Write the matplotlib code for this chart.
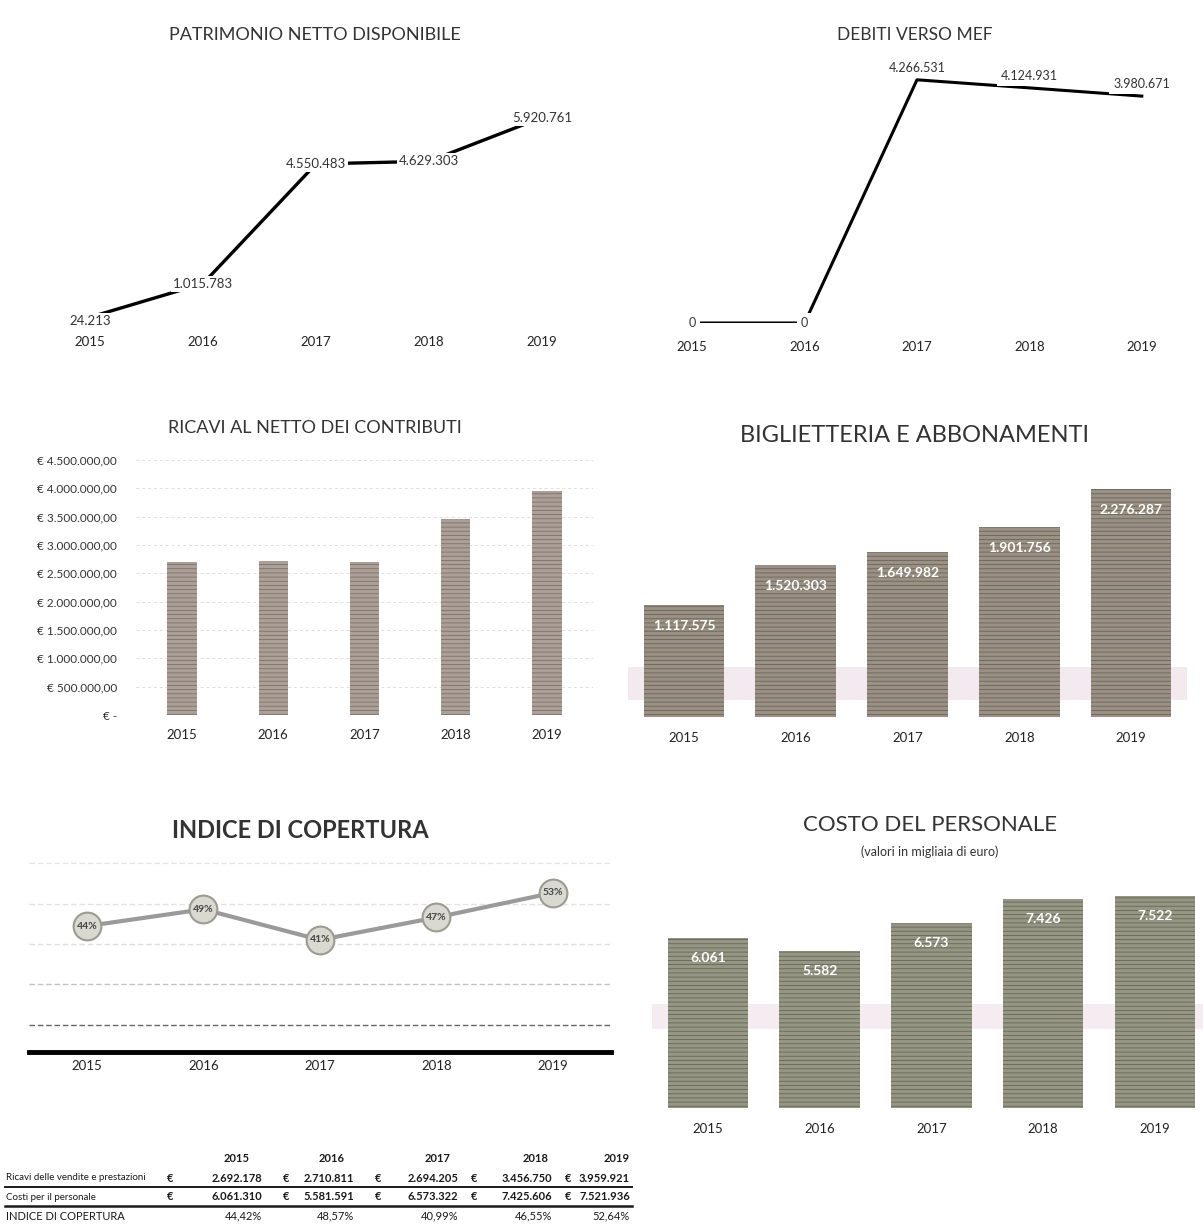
import matplotlib
matplotlib.use("Agg")
import matplotlib.pyplot as plt

W, H = 1203, 1227

years = ["2015", "2016", "2017", "2018", "2019"]
patrimonio = [24213, 1015783, 4550483, 4629303, 5920761]
debiti_mef = [0, 0, 4266531, 4124931, 3980671]
ricavi_vendite = [2692178, 2710811, 2694205, 3456750, 3959921]
biglietteria = [1117575, 1520303, 1649982, 1901756, 2276287]
costi_personale = [6061310, 5581591, 6573322, 7425606, 7521936]
costo_personale_k = [6061, 5582, 6573, 7426, 7522]
indice_copertura = [44.42, 48.57, 40.99, 46.55, 52.64]
ricavi_ticks = [0, 500000, 1000000, 1500000, 2000000, 2500000,
                3000000, 3500000, 4000000, 4500000]
indice_grid = [20, 30, 40, 50, 60]

FONT = "Lato"
plt.rcParams["font.family"] = [FONT, "DejaVu Sans"]
plt.rcParams["hatch.linewidth"] = 0.6


def it_int(v):
    return f"{v:,}".replace(",", ".")


def it_eur(v):
    if v == 0:
        return "€ -"
    s = f"{v:,.2f}".replace(",", "X").replace(".", ",").replace("X", ".")
    return f"€ {s}"


def px_axes(fig, left, top, right, bottom):
    return fig.add_axes([left / W, 1 - bottom / H, (right - left) / W, (bottom - top) / H])


def clean(ax, pad):
    for s in ax.spines.values():
        s.set_visible(False)
    ax.set_yticks([])
    ax.set_xticks(range(len(years)))
    ax.set_xticklabels(years, fontsize=9.5, color="#222222")
    ax.tick_params(axis="x", length=0, pad=pad)
    ax.patch.set_alpha(0)


def ftext(x, y, s, **kw):
    fig.text(x / W, 1 - y / H, s, **kw)


fig = plt.figure(figsize=(W / 100, H / 100), dpi=100)
x = list(range(len(years)))

# ---- Patrimonio netto disponibile (line) ----
ax1 = px_axes(fig, 33.5, 81, 598.5, 318)
ax1.set_xlim(-0.5, 4.5)
ax1.set_ylim(0, 7e6)
clean(ax1, 13)
ax1.axhline(0, color="#bbbbbb", lw=0.8, ls=(0, (2, 3)), zorder=1)
ax1.plot(x, patrimonio, color="black", lw=2.4, zorder=2)
for i, v in enumerate(patrimonio):
    ax1.annotate(it_int(v), (i, v), xytext=(0, -4 if v < 1e5 else 0),
                 textcoords="offset pixels", ha="center", va="center",
                 fontsize=9.5, color="#333333", zorder=3,
                 bbox=dict(boxstyle="square,pad=0.15", fc="white", ec="none"))
ftext(315, 35, "PATRIMONIO NETTO DISPONIBILE", ha="center", va="center",
      fontsize=13, color="#333333")

# ---- Debiti verso MEF (line) ----
ax2 = px_axes(fig, 636, 66.5, 1198, 323)
ax2.set_xlim(-0.5, 4.5)
ax2.set_ylim(0, 4.5e6)
clean(ax2, 13)
ax2.plot(x, debiti_mef, color="black", lw=2.2, zorder=2)
for i, v in enumerate(debiti_mef):
    ax2.annotate(it_int(v), (i, v), xytext=(0, 12 if v > 0 else 0),
                 textcoords="offset pixels", ha="center", va="center",
                 fontsize=9, color="#333333", zorder=3,
                 bbox=dict(boxstyle="square,pad=0.35", fc="white", ec="none"))
ftext(915, 35, "DEBITI VERSO MEF", ha="center", va="center",
      fontsize=12.5, color="#333333")

# ---- Ricavi al netto dei contributi (bars with euro axis) ----
ax3 = px_axes(fig, 136.4, 460, 592.6, 715)
ax3.set_xlim(-0.5, 4.5)
ax3.set_ylim(0, 4.5e6)
clean(ax3, 10)
ax3.set_yticks(ricavi_ticks)
ax3.set_yticklabels([it_eur(t) for t in ricavi_ticks], fontsize=8.5, color="#333333")
ax3.tick_params(axis="y", length=0, pad=14)
for t in ricavi_ticks[1:]:
    ax3.axhline(t, color="#dedede", lw=0.7, ls=(0, (3, 3)), zorder=0)
ax3.bar(x, ricavi_vendite, width=0.32, color="#ab9f98", edgecolor="#7c7269",
        hatch="----", lw=0, zorder=2)
ftext(315, 428, "RICAVI AL NETTO DEI CONTRIBUTI", ha="center", va="center",
      fontsize=13, color="#333333")

# ---- Biglietteria e abbonamenti (bars) ----
ax4 = px_axes(fig, 628, 467, 1187, 717)
ax4.set_xlim(-0.5, 4.5)
ax4.set_ylim(0, 2.5e6)
clean(ax4, 11)
ax4.axhspan(0.17e6, 0.5e6, color="#ecdde5", alpha=0.6, lw=0, zorder=1)
ax4.bar(x, biglietteria, width=0.72, color="#9a9184", edgecolor="#6b6459",
        hatch="----", lw=0, zorder=2)
for i, v in enumerate(biglietteria):
    ax4.annotate(it_int(v), (i, v), xytext=(0, -21), textcoords="offset pixels",
                 ha="center", va="center", fontsize=10, fontweight="bold",
                 color="white", zorder=3)
ftext(915, 435, "BIGLIETTERIA E ABBONAMENTI", ha="center", va="center",
      fontsize=17, color="#333333")

# ---- Indice di copertura (line with markers) ----
ax5 = px_axes(fig, 28.75, 843, 611, 1052)
ax5.set_xlim(-0.5, 4.5)
ax5.set_ylim(13.2, 65)
clean(ax5, 6)
grid_cols = ["#666666", "#c4c4c4", "#dedede", "#e2e2e2", "#e6e6e6"]
for g, c in zip(indice_grid, grid_cols):
    ax5.axhline(g, color=c, lw=1.0, ls=(0, (4, 2)), zorder=0)
ax5.axhline(13.2, color="black", lw=3.5, zorder=1, clip_on=False)
ax5.plot(x, indice_copertura, color="#9a9a9a", lw=3, zorder=2,
         marker="o", ms=20, mfc="#d9d9d2", mec="#9b9b90", mew=1.5)
for i, v in enumerate(indice_copertura):
    ax5.text(i, v, f"{v:.0f}%", ha="center", va="center", fontsize=7.5,
             fontweight="bold", color="#444444", zorder=3)
ftext(300, 830, "INDICE DI COPERTURA", ha="center", va="center",
      fontsize=17, fontweight="bold", color="#333333")

# ---- Costo del personale (bars, thousands of euro) ----
ax6 = px_axes(fig, 652, 869, 1203, 1108)
ax6.set_xlim(-0.5, 4.43)
ax6.set_ylim(0, 8500)
clean(ax6, 11)
ax6.axhspan(2800, 3700, color="#eee0e8", alpha=0.6, lw=0, zorder=1)
ax6.bar(x, costo_personale_k, width=0.72, color="#969783", edgecolor="#646559",
        hatch="----", lw=0, zorder=2)
for i, v in enumerate(costo_personale_k):
    ax6.annotate(it_int(v), (i, v), xytext=(0, -20), textcoords="offset pixels",
                 ha="center", va="center", fontsize=10, fontweight="bold",
                 color="white", zorder=3)
ftext(930, 825, "COSTO DEL PERSONALE", ha="center", va="center",
      fontsize=16, color="#333333")
ftext(930, 852, "(valori in migliaia di euro)", ha="center", va="center",
      fontsize=9, color="#333333")

# ---- Summary table ----
head_right = [250, 345, 450, 548, 630]
val_right = [262, 354, 458, 552, 630]
col_eur = [170, 286, 378, 474, 568]
row_y = [1158, 1178, 1197, 1216]
tkw = dict(va="center", color="#1a1a1a")
for xr, yr in zip(head_right, years):
    ftext(xr, row_y[0], yr, ha="right", fontsize=8, fontweight="bold", **tkw)
rows = [("Ricavi delle vendite e prestazioni", ricavi_vendite),
        ("Costi per il personale", costi_personale)]
for (label, vals), yy in zip(rows, row_y[1:3]):
    ftext(6, yy, label, ha="left", fontsize=7, **tkw)
    for xe, xr, v in zip(col_eur, val_right, vals):
        ftext(xe, yy, "€", ha="center", fontsize=8, fontweight="bold", **tkw)
        ftext(xr, yy, it_int(v), ha="right", fontsize=8, fontweight="bold", **tkw)
ftext(6, row_y[3], "INDICE DI COPERTURA", ha="left", fontsize=8, **tkw)
for xr, v in zip(val_right, indice_copertura):
    ftext(xr, row_y[3], f"{v:.2f}%".replace(".", ","), ha="right",
          fontsize=8, **tkw)
for yl, lw in [(1187, 1.4), (1206, 1.8)]:
    fig.add_artist(plt.Line2D([5 / W, 632 / W], [1 - yl / H, 1 - yl / H],
                              color="#1a1a1a", lw=lw))

fig.savefig("out.png", dpi=100, facecolor="white")
